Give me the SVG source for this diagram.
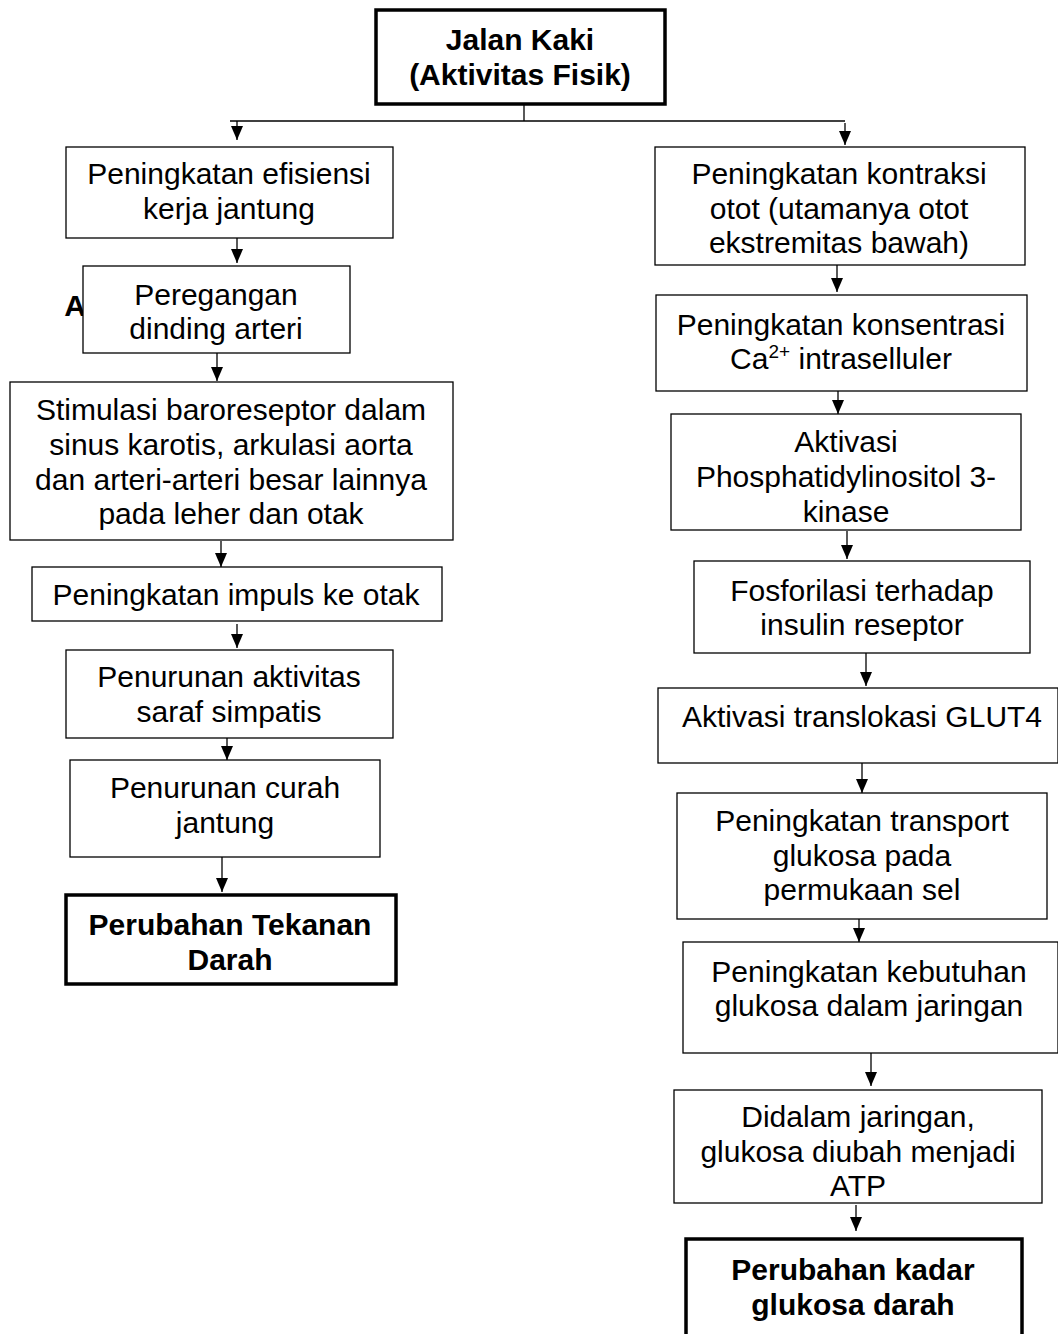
<svg xmlns="http://www.w3.org/2000/svg" width="1058" height="1334" viewBox="0 0 1058 1334">
<style>
.b{fill:#fff;stroke:#000;stroke-width:1.3}
.bb{fill:#fff;stroke:#000;stroke-width:3.5}
text{font-family:"Liberation Sans",Arial,sans-serif;font-size:30px;fill:#000;text-anchor:middle}
.bold{font-weight:bold}
.c{stroke:#000;stroke-width:1.3;fill:none}
</style>
<defs>
<marker id="ah" viewBox="0 0 14 12" refX="14" refY="6" markerWidth="14" markerHeight="12" markerUnits="userSpaceOnUse" orient="auto">
<path d="M0,0 L14,6 L0,12 Z" fill="#000"/>
</marker>
</defs>
<text class="bold" x="75" y="316">A</text>
<g id="connectors">
<path class="c" d="M524,104 V121"/>
<path class="c" d="M230,121 H845"/>
<path class="c" d="M237,121 V140" marker-end="url(#ah)"/>
<path class="c" d="M845,123 V145" marker-end="url(#ah)"/>
<path class="c" d="M237,238 V263" marker-end="url(#ah)"/>
<path class="c" d="M217,353 V381" marker-end="url(#ah)"/>
<path class="c" d="M221,541 V567" marker-end="url(#ah)"/>
<path class="c" d="M237,624 V648" marker-end="url(#ah)"/>
<path class="c" d="M227,738 V760" marker-end="url(#ah)"/>
<path class="c" d="M222,857 V892" marker-end="url(#ah)"/>
<path class="c" d="M837,265 V292" marker-end="url(#ah)"/>
<path class="c" d="M838,391 V414" marker-end="url(#ah)"/>
<path class="c" d="M847,531 V559" marker-end="url(#ah)"/>
<path class="c" d="M866,653 V686" marker-end="url(#ah)"/>
<path class="c" d="M862,763 V793" marker-end="url(#ah)"/>
<path class="c" d="M859,919 V942" marker-end="url(#ah)"/>
<path class="c" d="M871,1053 V1086" marker-end="url(#ah)"/>
<path class="c" d="M856,1205 V1231" marker-end="url(#ah)"/>
</g>
<g id="n0"><rect class="bb" x="376" y="10" width="289" height="94"/><text class="bold" x="520" y="50">Jalan Kaki</text><text class="bold" x="520" y="85">(Aktivitas Fisik)</text></g>
<g id="l1"><rect class="b" x="66" y="147" width="327" height="91"/><text x="229" y="184">Peningkatan efisiensi</text><text x="229" y="219">kerja jantung</text></g>
<g id="l2"><rect class="b" x="83" y="266" width="267" height="87"/><text x="216" y="305">Peregangan</text><text x="216" y="339">dinding arteri</text></g>
<g id="l3"><rect class="b" x="10" y="382" width="443" height="158"/><text x="231" y="420">Stimulasi baroreseptor dalam</text><text x="231" y="455">sinus karotis, arkulasi aorta</text><text x="231" y="490">dan arteri-arteri besar lainnya</text><text x="231" y="524">pada leher dan otak</text></g>
<g id="l4"><rect class="b" x="32" y="567" width="410" height="54"/><text x="236" y="605">Peningkatan impuls ke otak</text></g>
<g id="l5"><rect class="b" x="66" y="650" width="327" height="88"/><text x="229" y="687">Penurunan aktivitas</text><text x="229" y="722">saraf simpatis</text></g>
<g id="l6"><rect class="b" x="70" y="760" width="310" height="97"/><text x="225" y="798">Penurunan curah</text><text x="225" y="833">jantung</text></g>
<g id="l7"><rect class="bb" x="66" y="895" width="330" height="89"/><text class="bold" x="230" y="935">Perubahan Tekanan</text><text class="bold" x="230" y="970">Darah</text></g>
<g id="r1"><rect class="b" x="655" y="147" width="370" height="118"/><text x="839" y="184">Peningkatan kontraksi</text><text x="839" y="219">otot (utamanya otot</text><text x="839" y="253">ekstremitas bawah)</text></g>
<g id="r2"><rect class="b" x="656" y="295" width="371" height="96"/><text x="841" y="335">Peningkatan konsentrasi</text><text x="841" y="369">Ca<tspan font-size="19" dy="-11">2+</tspan><tspan dy="11"> intraselluler</tspan></text></g>
<g id="r3"><rect class="b" x="671" y="414" width="350" height="116"/><text x="846" y="452">Aktivasi</text><text x="846" y="487">Phosphatidylinositol 3-</text><text x="846" y="522">kinase</text></g>
<g id="r4"><rect class="b" x="694" y="561" width="336" height="92"/><text x="862" y="601">Fosforilasi terhadap</text><text x="862" y="635">insulin reseptor</text></g>
<g id="r5"><rect class="b" x="658" y="688" width="400" height="75"/><text x="862" y="727">Aktivasi translokasi GLUT4</text></g>
<g id="r6"><rect class="b" x="677" y="793" width="370" height="126"/><text x="862" y="831">Peningkatan transport</text><text x="862" y="866">glukosa pada</text><text x="862" y="900">permukaan sel</text></g>
<g id="r7"><rect class="b" x="683" y="942" width="375" height="111"/><text x="869" y="982">Peningkatan kebutuhan</text><text x="869" y="1016">glukosa dalam jaringan</text></g>
<g id="r8"><rect class="b" x="674" y="1090" width="368" height="113"/><text x="858" y="1127">Didalam jaringan,</text><text x="858" y="1162">glukosa diubah menjadi</text><text x="858" y="1196">ATP</text></g>
<g id="r9"><rect class="bb" x="686" y="1239" width="336" height="110"/><text class="bold" x="853" y="1280">Perubahan kadar</text><text class="bold" x="853" y="1315">glukosa darah</text></g>
</svg>
